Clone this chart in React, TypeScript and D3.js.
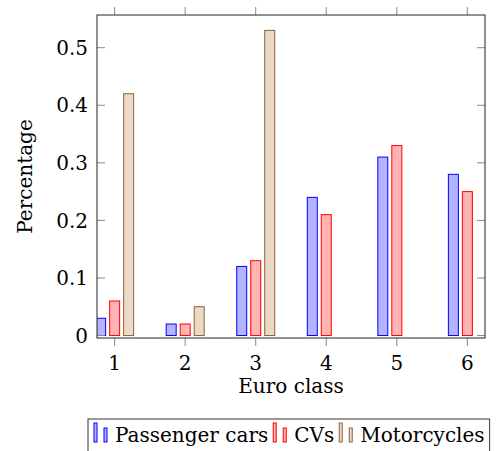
import React, { useEffect, useRef } from "react";
import * as d3 from "d3";

const categories = [1, 2, 3, 4, 5, 6];
const seriesNames = ["Passenger cars", "CVs", "Motorcycles"];
const passengerCars = [0.03, 0.02, 0.12, 0.24, 0.31, 0.28];
const cvs = [0.06, 0.02, 0.13, 0.21, 0.33, 0.25];
const motorcycles = [0.42, 0.05, 0.53, 0, 0, 0];
const yTicks = [0, 0.1, 0.2, 0.3, 0.4, 0.5];

const fills = ["#b3b3ff", "#ffb3b3", "#ecd9c6"];
const strokes = ["#0000ff", "#ff0000", "#8c6239"];
const FONT = "DejaVu Serif";
const FS = "20px";

export default function App() {
  const ref = useRef<SVGSVGElement>(null);

  useEffect(() => {
    const svg = d3.select(ref.current);
    svg.selectAll("*").remove();

    const left = 97, right = 485, top = 15, bottom = 338;
    const x = d3.scaleLinear().domain([0.75, 6.25]).range([left, right]);
    const y = d3.scaleLinear().domain([-0.0043, 0.5568]).range([bottom, top]);
    const off = d3.scalePoint<string>().domain(seriesNames).range([-14, 14]);
    const barW = 10;
    const values = [passengerCars, cvs, motorcycles];

    svg
      .append("defs")
      .append("clipPath")
      .attr("id", "plotclip")
      .append("rect")
      .attr("x", left)
      .attr("y", top)
      .attr("width", right - left)
      .attr("height", bottom - top);

    // bars
    const bars = svg.append("g").attr("clip-path", "url(#plotclip)");
    seriesNames.forEach((name, si) => {
      const data = categories
        .map((c, i) => ({ c, v: values[si][i] }))
        .filter((d) => d.v > 0);
      bars
        .selectAll(".bar" + si)
        .data(data)
        .enter()
        .append("rect")
        .attr("x", (d) => x(d.c) + off(name) - barW / 2)
        .attr("y", (d) => y(d.v))
        .attr("width", barW)
        .attr("height", (d) => y(0) - y(d.v))
        .style("fill", fills[si])
        .style("stroke", strokes[si])
        .style("stroke-width", 1);
    });

    // ticks
    const tickColor = "#8a8a8a";
    categories.forEach((c) => {
      svg.append("line").attr("x1", x(c)).attr("x2", x(c)).attr("y1", top).attr("y2", top - 8)
        .style("stroke", tickColor);
      svg.append("line").attr("x1", x(c)).attr("x2", x(c)).attr("y1", bottom).attr("y2", bottom + 8)
        .style("stroke", tickColor);
      svg.append("text").attr("x", x(c)).attr("y", 370).attr("text-anchor", "middle")
        .style("font-family", FONT).style("font-size", FS).text(c);
    });
    yTicks.forEach((t) => {
      svg.append("line").attr("x1", left).attr("x2", left + 8).attr("y1", y(t)).attr("y2", y(t))
        .style("stroke", tickColor);
      svg.append("line").attr("x1", right).attr("x2", right - 8).attr("y1", y(t)).attr("y2", y(t))
        .style("stroke", tickColor);
      svg.append("text").attr("x", 88).attr("y", y(t)).attr("dy", "0.36em").attr("text-anchor", "end")
        .style("font-family", FONT).style("font-size", FS).text(String(t));
    });

    // frame
    svg.append("rect").attr("x", left).attr("y", top).attr("width", right - left).attr("height", bottom - top)
      .style("fill", "none").style("stroke", "#222").style("stroke-width", 1);

    // axis labels
    svg.append("text").attr("x", (left + right) / 2).attr("y", 393).attr("text-anchor", "middle")
      .style("font-family", FONT).style("font-size", FS).text("Euro class");
    svg.append("text").attr("transform", `translate(32,${(top + bottom) / 2}) rotate(-90)`)
      .attr("text-anchor", "middle")
      .style("font-family", FONT).style("font-size", FS).text("Percentage");

    // legend
    const lg = svg.append("g");
    const box = lg.append("rect").attr("x", 88).attr("y", 419).attr("height", 40)
      .style("fill", "white").style("stroke", "#333").style("stroke-width", 1);
    let cx = 94;
    seriesNames.forEach((name, si) => {
      lg.append("rect").attr("x", cx).attr("y", 423).attr("width", 3).attr("height", 19)
        .style("fill", fills[si]).style("stroke", strokes[si]);
      lg.append("rect").attr("x", cx + 10).attr("y", 428).attr("width", 3).attr("height", 14)
        .style("fill", fills[si]).style("stroke", strokes[si]);
      const t = lg.append("text").attr("x", cx + 21).attr("y", 442)
        .style("font-family", FONT).style("font-size", FS).text(name);
      const w = (t.node() as SVGTextElement).getComputedTextLength();
      cx = cx + 21 + w + 5;
    });
    box.attr("width", cx - 88);
  }, []);

  return (
    <svg
      ref={ref}
      width={497}
      height={451}
      style={{ position: "absolute", left: 0, top: 0, background: "white" }}
    />
  );
}
